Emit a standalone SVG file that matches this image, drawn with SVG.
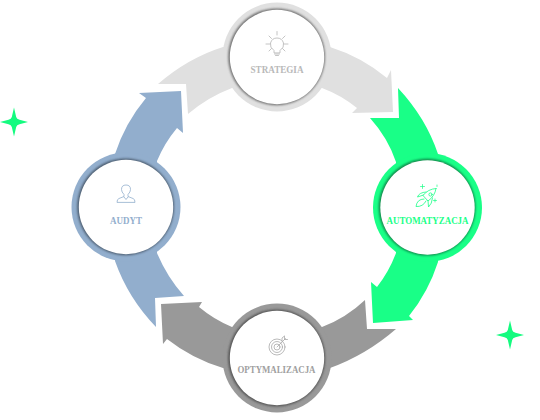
<svg xmlns="http://www.w3.org/2000/svg" width="540" height="420" viewBox="0 0 540 420">
<style>
.lbl{font-family:"Liberation Serif","DejaVu Serif",serif;font-weight:700;font-size:10.5px;text-anchor:middle}
.ic{fill:none;stroke-width:.8;stroke-linecap:round;stroke-linejoin:round}
.disc{fill:#fff}
.rim{fill-opacity:.8}
.gray1{fill:#e0e0e0}.green{fill:#19ff87}.gray2{fill:#999}.blue{fill:#92aecd}
</style>
<defs>
<filter id="soft" x="-20%" y="-20%" width="140%" height="140%"><feGaussianBlur stdDeviation="1.1"/></filter>
<path id="star" d="M0-14.500L2.200-5Q2.700-2.700 5.500-2.200L14 0L5.500 2.200Q2.700 2.700 2.200 5L0 14.500L-2.200 5Q-2.700 2.700-5.500 2.200L-14 0L-5.500-2.200Q-2.700-2.700-2.200-5Z"/>
</defs>
<rect width="540" height="420" fill="#fff"/>
<g id="connectors">
<path class="gray1" d="M158 84Q188 58 223 47L330 47A169 169 0 0 1 387 78L391 70L393 112L352 113L357 108A127 127 0 0 0 322 88L232 88Q208 97 188 114L186 84Z"/>
<path class="green" d="M398 88Q426 118 438 154L438 262A169 169 0 0 1 409 316L413 320L373 323L371 282L377 287A127 127 0 0 0 396 253L396 162Q388 138 370 118L399 118Z"/>
<path class="gray2" d="M396 329Q366 355 330 368L223 368A169 169 0 0 1 167 339L163 344L161 304L202 302L199 307A127 127 0 0 0 232 327L322 327Q346 318 365 300L367 329Z"/>
<path class="blue" d="M156 327Q128 298 115 261L115 154A169 169 0 0 1 146 98L139 93L181 91L183 133L177 128A127 127 0 0 0 157 161L157 253Q167 277 184 296L155 298Z"/>
</g>
<g id="node-strategia">
<circle class="gray1" cx="277" cy="57" r="54.500"/>
<circle class="rim" cx="276.600" cy="56.800" r="48.400" fill="#555" filter="url(#soft)"/>
<circle class="disc" cx="277" cy="57" r="47.200"/>
<g class="ic" stroke="#b5b5b5">
<path d="M274 52.500V50.500Q269.500 47.500 270.500 43Q272 38 277 38Q282 38 283.500 43Q284.500 47.500 280 50.500V52.500ZM274.500 54H279.500M275.500 55.500H278.500M277 35V31.500M266 44H270M284 44H288M269 36L271.500 38.500M285 36L282.500 38.500M269 51L271.500 48.500M285 51L282.500 48.500"/>
</g>
<text class="lbl" x="277" y="73" fill="#b9b9b9" textLength="53" lengthAdjust="spacingAndGlyphs">STRATEGIA</text>
</g>
<g id="node-automatyzacja">
<circle class="green" cx="427.500" cy="207.500" r="54.500"/>
<circle class="rim" cx="427.100" cy="207.200" r="48.400" fill="#0c6a3c" filter="url(#soft)"/>
<circle class="disc" cx="427.500" cy="207.500" r="47.200"/>
<g class="ic" stroke="#19ff87">
<path d="M436 188.500Q428 189 423 195.500L428 201Q435 196 436 188.500Z"/>
<circle cx="430.500" cy="194.500" r="1.600"/>
<path d="M423.500 195L417.500 197Q419 192.500 426 192M428 200.500L428.500 207Q432 204 432.500 198M424 199Q417 199 416 206.500Q423 207 426 201"/>
<path d="M422.500 184.500V188.500M420.500 186.500H424.500M437 185V186.500M435 199V202M433.500 200.500H436.500" stroke-width=".7"/>
</g>
<text class="lbl" x="427.500" y="224" fill="#19ff87" textLength="82" lengthAdjust="spacingAndGlyphs">AUTOMATYZACJA</text>
</g>
<g id="node-optymalizacja">
<circle class="gray2" cx="277" cy="358" r="54.500"/>
<circle class="rim" cx="276.600" cy="358" r="48.500" fill="#444" filter="url(#soft)"/>
<circle class="disc" cx="277" cy="358" r="47.200"/>
<g class="ic" stroke="#a8a8a8">
<circle cx="277" cy="347" r="8"/>
<circle cx="277" cy="347" r="5.500"/>
<circle cx="277" cy="347" r="3"/>
<path d="M277 347L285.500 338.500M284.500 336.500V339.500H287.500M282 341V338L284.500 336"/>
</g>
<text class="lbl" x="276.500" y="373" fill="#a0a0a0" font-weight="400" textLength="78" lengthAdjust="spacingAndGlyphs">OPTYMALIZACJA</text>
</g>
<g id="node-audyt">
<circle class="blue" cx="126" cy="207" r="54.500"/>
<circle class="rim" cx="125.600" cy="206.800" r="48.400" fill="#3c4a5a" filter="url(#soft)"/>
<circle class="disc" cx="126" cy="207" r="47.200"/>
<g class="ic" stroke="#92aecd">
<path d="M117 202Q117 199 119 198.500L124 196.500V194.500Q121.500 192 121.500 189.500Q121.500 185 126 185Q130.500 185 130.500 189.500Q130.500 192 128 194.500V196.500L133 198.500Q135 199 135 202ZM124 197L126 199.500L128 197"/>
</g>
<text class="lbl" x="126" y="224" fill="#92aecd" textLength="32" lengthAdjust="spacingAndGlyphs">AUDYT</text>
</g>
<use href="#star" x="14" y="122" fill="#14fb7f"/>
<use href="#star" x="510" y="335" fill="#14fb7f"/>
</svg>
